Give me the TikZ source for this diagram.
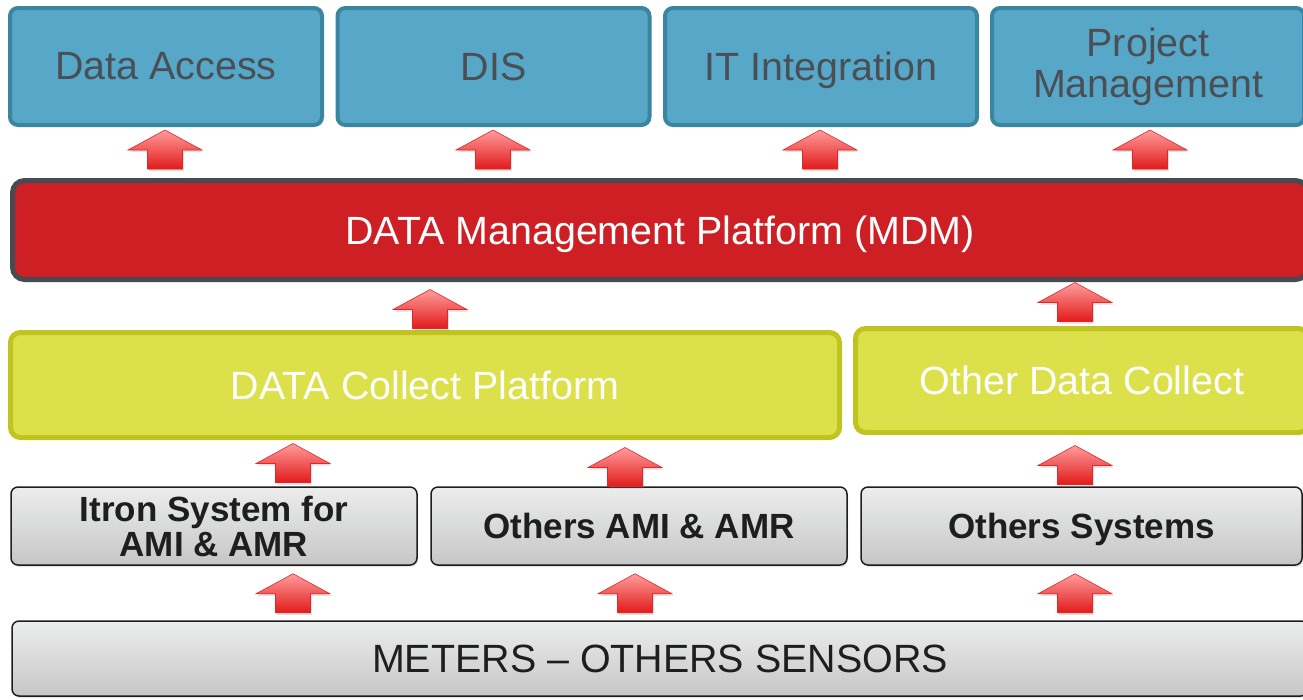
\documentclass[tikz,border=0pt]{standalone}
\usepackage{fontspec}
\setmainfont{Liberation Sans}
\usetikzlibrary{calc,shadows}

\definecolor{tealfill}{HTML}{57A7C8}
\definecolor{tealline}{HTML}{3A86A0}
\definecolor{topgray}{HTML}{4A4F55}
\definecolor{mdmfill}{HTML}{CD1F24}
\definecolor{mdmline}{HTML}{454B51}
\definecolor{limefill}{HTML}{DCE14B}
\definecolor{limeline}{HTML}{C0C421}
\definecolor{greytop}{HTML}{ECEDED}
\definecolor{greybot}{HTML}{C6C6C6}
\definecolor{greyline}{HTML}{1E1E1E}
\definecolor{arrtop}{HTML}{FF9C9C}
\definecolor{arrbot}{HTML}{E21A1A}
\definecolor{arrline}{HTML}{E02828}

\newcommand{\nodepth}[1]{\raisebox{0pt}[\height][0pt]{#1}}

\tikzset{
  bigfont/.style={font=\fontsize{39.4}{40}\selectfont},
  boldfont/.style={font=\bfseries\fontsize{35}{35}\selectfont},
  topbox/.style={draw=tealline, fill=tealfill, line width=4pt, rounded corners=8pt,
    minimum width=312pt, minimum height=117pt, text=topgray, align=center, inner sep=0pt, bigfont},
  mdmbox/.style={draw=mdmline, fill=mdmfill, line width=5pt, rounded corners=12pt,
    text=white, inner sep=0pt, bigfont},
  limebox/.style={draw=limeline, fill=limefill, line width=5pt, rounded corners=10pt,
    text=white, inner sep=0pt, bigfont,
    drop shadow={opacity=0.2, shadow xshift=1pt, shadow yshift=-2pt}},
  greybox/.style={draw=greyline, top color=greytop, bottom color=greybot, line width=1.5pt,
    rounded corners=7pt, text=greyline, align=center, inner sep=0pt,
    drop shadow={opacity=0.2, shadow xshift=1pt, shadow yshift=-2pt}},
  arrfill/.style={draw=arrline, line width=0.6pt, top color=arrtop, bottom color=arrbot,
    drop shadow={opacity=0.25, shadow xshift=1.5pt, shadow yshift=-2pt}},
  uparr/.pic={
    \draw[arrfill] (0,0) -- (37,20) -- (17.5,20) -- (17.5,39) -- (-17.5,39) -- (-17.5,20) -- (-37,20) -- cycle;
  }
}

\begin{document}
\begin{tikzpicture}[x=1pt,y=-1pt]
  \clip (0,0) rectangle (1303,699);

  % top row
  \node[topbox] (access) at (166,66.5) {Data Access};
  \node[topbox] (dis) at (493.5,66.5) {DIS};
  \node[topbox] (itint) at (821,66.5) {\nodepth{IT Integration}};
  \node[topbox] (projman) at (1148,66.5) {Project\\[1pt]Management};

  % platforms
  \node[mdmbox, minimum width=1295pt, minimum height=99pt] (mdm) at (660,230) {\nodepth{DATA Management Platform (MDM)}};
  \node[limebox, minimum width=829pt, minimum height=105pt] (collect) at (425,385) {DATA Collect Platform};
  \node[limebox, minimum width=453pt, minimum height=104pt] (othcollect) at (1082,380.5) {Other Data Collect};

  % systems
  \node[greybox, boldfont, minimum width=406pt, minimum height=78pt] (itron) at (214,526) {Itron System for\\AMI \& AMR};
  \node[greybox, boldfont, minimum width=416pt, minimum height=78pt] (othami) at (639,526) {Others AMI \& AMR};
  \node[greybox, boldfont, minimum width=441pt, minimum height=78pt] (othsys) at (1081.5,526) {\nodepth{Others Systems}};
  \node[greybox, bigfont, minimum width=1296pt, minimum height=75pt] (meters) at (660,658.5) {METERS -- OTHERS SENSORS};

  % arrows into the top row
  \pic at ($(165,0 |- access.south)+(0,3)$) {uparr};
  \pic at ($(493,0 |- dis.south)+(0,3)$) {uparr};
  \pic at ($(820,0 |- itint.south)+(0,3)$) {uparr};
  \pic at ($(1150,0 |- projman.south)+(0,3)$) {uparr};

  % arrows into the MDM
  \pic at ($(430,0 |- mdm.south)+(0,7.5)$) {uparr};
  \pic at ($(1075,0 |- mdm.south)+(0,0.5)$) {uparr};

  % arrows into the collectors
  \pic at ($(293,0 |- collect.south)+(0,3.5)$) {uparr};
  \pic at ($(625,0 |- collect.south)+(0,7.5)$) {uparr};
  \pic at ($(1075,0 |- othcollect.south)+(0,10.5)$) {uparr};

  % arrows from the meters
  \pic at ($(293,0 |- itron.south)+(0,8)$) {uparr};
  \pic at ($(635,0 |- othami.south)+(0,8)$) {uparr};
  \pic at ($(1075,0 |- othsys.south)+(0,8)$) {uparr};
\end{tikzpicture}
\end{document}
